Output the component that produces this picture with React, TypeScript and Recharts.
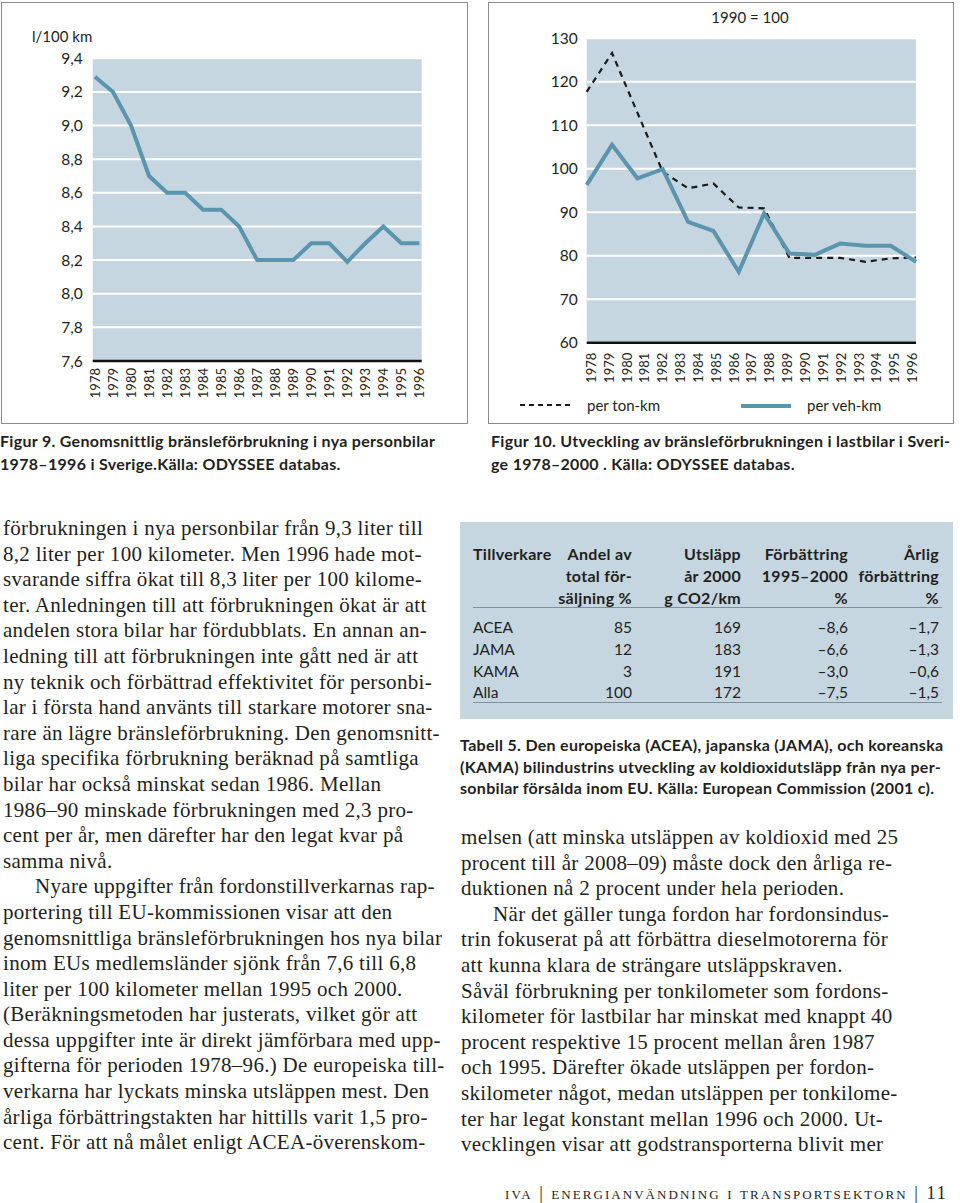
import React from "react";
import { LineChart, Line, XAxis, YAxis, CartesianGrid } from "recharts";

// Figur 9: average fuel use in new cars, l/100 km
const carYears = ["1978", "1979", "1980", "1981", "1982", "1983", "1984", "1985", "1986", "1987", "1988", "1989", "1990", "1991", "1992", "1993", "1994", "1995", "1996"];
const carFuel = [9.29, 9.2, 9.0, 8.7, 8.6, 8.6, 8.5, 8.5, 8.4, 8.2, 8.2, 8.2, 8.3, 8.3, 8.19, 8.3, 8.4, 8.3, 8.3];
const carTicks = [7.6, 7.8, 8.0, 8.2, 8.4, 8.6, 8.8, 9.0, 9.2, 9.4];

// Figur 10: trucks, index 1990 = 100 (points sit between the year ticks)
const truckX = [1977.75, 1979.17, 1980.59, 1982.01, 1983.43, 1984.85, 1986.27, 1987.69, 1989.11, 1990.53, 1991.95, 1993.37, 1994.79, 1996.2];
const perTonKm = [117.7, 126.6, 112.9, 99.3, 95.5, 96.6, 91.1, 90.9, 79.5, 79.5, 79.5, 78.6, 79.4, 79.6];
const perVehKm = [96.3, 105.5, 97.8, 99.9, 87.8, 85.7, 76.3, 89.7, 80.5, 80.2, 82.8, 82.3, 82.3, 78.6];
const truckTicks = [60, 70, 80, 90, 100, 110, 120, 130];
const truckYearTicks = [1978, 1979, 1980, 1981, 1982, 1983, 1984, 1985, 1986, 1987, 1988, 1989, 1990, 1991, 1992, 1993, 1994, 1995, 1996];

// Tabell 5
const tableHead = [
  ["Tillverkare", "", ""],
  ["Andel av", "total för-", "säljning %"],
  ["Utsläpp", "år 2000", "g CO2/km"],
  ["Förbättring", "1995–2000", "%"],
  ["Årlig", "förbättring", "%"],
];
const makers = ["ACEA", "JAMA", "KAMA", "Alla"];
const salesShare = ["85", "12", "3", "100"];
const co2 = ["169", "183", "191", "172"];
const improvement = ["–8,6", "–6,6", "–3,0", "–7,5"];
const yearlyImprovement = ["–1,7", "–1,3", "–0,6", "–1,5"];

const leftText = [
  "förbrukningen i nya personbilar från 9,3 liter till",
  "8,2 liter per 100 kilometer. Men 1996 hade mot-",
  "svarande siffra ökat till 8,3 liter per 100 kilome-",
  "ter. Anledningen till att förbrukningen ökat är att",
  "andelen stora bilar har fördubblats. En annan an-",
  "ledning till att förbrukningen inte gått ned är att",
  "ny teknik och förbättrad effektivitet för personbi-",
  "lar i första hand använts till starkare motorer sna-",
  "rare än lägre bränsleförbrukning. Den genomsnitt-",
  "liga specifika förbrukning beräknad på samtliga",
  "bilar har också minskat sedan 1986. Mellan",
  "1986–90 minskade förbrukningen med 2,3 pro-",
  "cent per år, men därefter har den legat kvar på",
  "samma nivå.",
  "\u2003\u2002Nyare uppgifter från fordonstillverkarnas rap-",
  "portering till EU-kommissionen visar att den",
  "genomsnittliga bränsleförbrukningen hos nya bilar",
  "inom EUs medlemsländer sjönk från 7,6 till 6,8",
  "liter per 100 kilometer mellan 1995 och 2000.",
  "(Beräkningsmetoden har justerats, vilket gör att",
  "dessa uppgifter inte är direkt jämförbara med upp-",
  "gifterna för perioden 1978–96.) De europeiska till-",
  "verkarna har lyckats minska utsläppen mest. Den",
  "årliga förbättringstakten har hittills varit 1,5 pro-",
  "cent. För att nå målet enligt ACEA-överenskom-",
];

const rightText = [
  "melsen (att minska utsläppen av koldioxid med 25",
  "procent till år 2008–09) måste dock den årliga re-",
  "duktionen nå 2 procent under hela perioden.",
  "\u2003\u2002När det gäller tunga fordon har fordonsindus-",
  "trin fokuserat på att förbättra dieselmotorerna för",
  "att kunna klara de strängare utsläppskraven.",
  "Såväl förbrukning per tonkilometer som fordons-",
  "kilometer för lastbilar har minskat med knappt 40",
  "procent respektive 15 procent mellan åren 1987",
  "och 1995. Därefter ökade utsläppen per fordon-",
  "skilometer något, medan utsläppen per tonkilome-",
  "ter har legat konstant mellan 1996 och 2000. Ut-",
  "vecklingen visar att godstransporterna blivit mer",
];

const SANS = "Lato, 'Open Sans', sans-serif";
const SERIF = "'Liberation Serif', serif";
const PLOT_BG = "#c5d6e1";
const LINE_BLUE = "#5b94ad";
const INK = "#231f20";

const carData = carYears.map((year, i) => ({ year, value: carFuel[i] }));
const truckData = truckX.map((x, i) => ({ x, ton: perTonKm[i], veh: perVehKm[i] }));

const YearTick = (props: any) => {
  const { x, y, payload } = props;
  return (
    <text
      x={x}
      y={y}
      transform={`rotate(-90 ${x} ${y})`}
      textAnchor="end"
      dy="0.36em"
      fontSize={13}
      fontFamily={SANS}
      fill={INK}
    >
      {payload.value}
    </text>
  );
};

const tickStyle = { fontSize: 15.5, fontFamily: SANS, fill: INK };

const CarChart = () => (
  <LineChart width={470} height={425} data={carData} margin={{ top: 58.3, left: 52.7, right: 48.3, bottom: 24 }}>
    <CartesianGrid vertical={false} fill={PLOT_BG} fillOpacity={1} stroke="#fff" strokeWidth={2} />
    <XAxis
      dataKey="year"
      interval={0}
      padding={{ left: 2.3, right: 2.3 }}
      height={40}
      tickSize={0}
      tickMargin={7}
      tickLine={false}
      axisLine={{ stroke: "#111", strokeWidth: 2.5 }}
      tick={<YearTick />}
    />
    <YAxis
      type="number"
      domain={[7.6, 9.4]}
      ticks={carTicks}
      interval={0}
      width={40}
      axisLine={false}
      tickLine={false}
      tickMargin={4}
      tick={tickStyle}
      tickFormatter={(v: number) => v.toFixed(1).replace(".", ",")}
    />
    <Line type="linear" dataKey="value" stroke={LINE_BLUE} strokeWidth={4} dot={false} isAnimationActive={false} />
  </LineChart>
);

const TruckChart = () => (
  <LineChart width={480} height={425} data={truckData} margin={{ top: 38.3, left: 66.7, right: 44, bottom: 42.3 }}>
    <CartesianGrid vertical={false} fill={PLOT_BG} fillOpacity={1} stroke="#fff" strokeWidth={2} />
    <XAxis
      dataKey="x"
      type="number"
      domain={[1977.75, 1996.2]}
      ticks={truckYearTicks}
      interval={0}
      height={40}
      tickSize={0}
      tickMargin={10}
      tickLine={false}
      axisLine={{ stroke: "#111", strokeWidth: 2.5 }}
      tick={<YearTick />}
    />
    <YAxis
      type="number"
      domain={[60, 130]}
      ticks={truckTicks}
      interval={0}
      width={40}
      axisLine={false}
      tickLine={false}
      tickMargin={3}
      tick={tickStyle}
    />
    <Line type="linear" dataKey="ton" stroke="#1a1a1a" strokeWidth={2.2} strokeDasharray="6 5" dot={false} isAnimationActive={false} />
    <Line type="linear" dataKey="veh" stroke={LINE_BLUE} strokeWidth={4} dot={false} isAnimationActive={false} />
  </LineChart>
);

const abs = (left: number, top: number, extra: any = {}) => ({ position: "absolute" as const, left, top, ...extra });

const TextColumn = ({ lines, left, top }: { lines: string[]; left: number; top: number }) => (
  <div style={abs(left, top, { fontFamily: SERIF, fontSize: 21, letterSpacing: 0.3, lineHeight: "25.6px", color: INK })}>
    {lines.map((l, i) => (
      <div key={i} style={{ whiteSpace: "pre" }}>{l}</div>
    ))}
  </div>
);

const colRight = [0, 632, 741, 848, 939];

const DataTable = () => {
  const cols = [makers, salesShare, co2, improvement, yearlyImprovement];
  const headBase = [560, 582, 604];
  const rowBase = [633, 655, 677, 698];
  const cell = (text: string, col: number, base: number, bold: boolean, key: string) => {
    const font = { fontFamily: SANS, fontSize: bold ? 16 : 15.5, fontWeight: bold ? 700 : 400, whiteSpace: "pre", lineHeight: "20px", letterSpacing: bold ? 0.3 : 0 };
    return col === 0 ? (
      <div key={key} style={abs(473, base - 16, font)}>{text}</div>
    ) : (
      <div key={key} style={abs(colRight[col] - 160, base - 16, { ...font, width: 160, textAlign: "right" })}>{text}</div>
    );
  };
  return (
    <>
      <div style={abs(460, 522, { width: 493, height: 197, background: PLOT_BG })} />
      <div style={abs(473, 607, { width: 469, height: 1, background: "#7f8f9b" })} />
      <div style={abs(473, 702, { width: 469, height: 1, background: "#7f8f9b" })} />
      {tableHead.map((h, c) => h.map((t, r) => cell(t, c, headBase[r], true, `h${c}${r}`)))}
      {cols.map((col, c) => col.map((t, r) => cell(t, c, rowBase[r], false, `d${c}${r}`)))}
    </>
  );
};

const captionStyle = { fontFamily: SANS, fontWeight: 700, fontSize: 16, letterSpacing: 0.3, lineHeight: "23px", color: INK, whiteSpace: "pre" as const };

export default function App() {
  return (
    <div style={{ position: "absolute", left: 0, top: 0, width: 960, height: 1203, background: "#fff", overflow: "hidden", color: INK }}>
      {/* chart frames */}
      <div style={abs(1, 2, { width: 465, height: 420, border: "1px solid #8c8c8c" })} />
      <div style={abs(488, 2, { width: 464, height: 420, border: "1px solid #8c8c8c" })} />

      <div style={abs(0, 0)}>
        <CarChart />
      </div>
      <div style={abs(32, 27, { fontFamily: SANS, fontSize: 15, whiteSpace: "pre" })}>l/100 km</div>

      <div style={abs(480, 0)}>
        <TruckChart />
      </div>
      <div style={abs(680, 8, { width: 140, textAlign: "center", fontFamily: SANS, fontSize: 15 })}>1990 = 100</div>
      {/* legend */}
      <svg style={abs(518, 398)} width={60} height={14}>
        <line x1={2} y1={7} x2={54} y2={7} stroke="#1a1a1a" strokeWidth={2} strokeDasharray="5 4" />
      </svg>
      <div style={abs(587, 396, { fontFamily: SANS, fontSize: 15, whiteSpace: "pre" })}>per ton-km</div>
      <svg style={abs(740, 398)} width={52} height={14}>
        <line x1={1} y1={8} x2={51} y2={8} stroke={LINE_BLUE} strokeWidth={4} />
      </svg>
      <div style={abs(807, 396, { fontFamily: SANS, fontSize: 15, whiteSpace: "pre" })}>per veh-km</div>

      {/* figure captions */}
      <div style={abs(0, 429, captionStyle)}>
        <div>Figur 9. Genomsnittlig bränsleförbrukning i nya personbilar</div>
        <div>1978–1996 i Sverige.Källa: ODYSSEE databas.</div>
      </div>
      <div style={abs(491, 429, captionStyle)}>
        <div>Figur 10. Utveckling av bränsleförbrukningen i lastbilar i Sveri-</div>
        <div>ge 1978–2000 . Källa: ODYSSEE databas.</div>
      </div>

      <TextColumn lines={leftText} left={3} top={516} />

      <DataTable />
      <div style={abs(460, 734, { ...captionStyle, lineHeight: "21.7px" })}>
        <div>Tabell 5. Den europeiska (ACEA), japanska (JAMA), och koreanska</div>
        <div>(KAMA) bilindustrins utveckling av koldioxidutsläpp från nya per-</div>
        <div>sonbilar försålda inom EU. Källa: European Commission (2001 c).</div>
      </div>

      <TextColumn lines={rightText} left={461} top={825} />

      <div style={abs(505, 1183, { fontFamily: SERIF, fontSize: 18, fontVariant: "small-caps", letterSpacing: 2.05, whiteSpace: "pre", color: INK })}>
        iva <span style={{ fontVariant: "normal" }}>|</span> energianvändning i transportsektorn <span style={{ fontVariant: "normal" }}>|</span> 11
      </div>
    </div>
  );
}
